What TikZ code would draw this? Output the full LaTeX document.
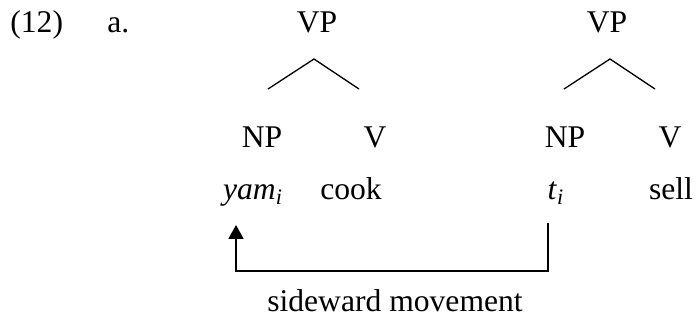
\documentclass[tikz,border=0pt]{standalone}
\usepackage{fontspec}
\setmainfont{Liberation Serif}
\usepackage{tikz}
\usetikzlibrary{arrows.meta,positioning,calc}
\tikzset{
  lbl/.style={inner sep=0pt,anchor=base,font=\fontsize{15.8}{18}\selectfont},
  branch/.style={line width=0.65pt},
  movearrow/.style={line width=1pt,-{Triangle[width=7.5pt,length=7pt]}}
}

\begin{document}
\begin{tikzpicture}[x=0.5pt,y=-0.5pt]
  \useasboundingbox (0,0) rectangle (696,320);

  % Example number
  \node[lbl,anchor=base west] (exnum) at (10,33) {(12)};
  \node[lbl,anchor=base west] (exa) at (107,33) {a.};

  % Left tree
  \node[lbl] (vpa) at (317,33) {VP};
  \node[lbl] (npa) at (262,148) {NP};
  \node[lbl] (va) at (375,148) {V};
  \node[lbl] (yam) at (253,200) {\textit{yam}\textsubscript{\textit{i}}};
  \node[lbl] (cook) at (351,200) {cook};
  \coordinate (topa) at (314,59);
  \coordinate (lefta) at (268,89);
  \coordinate (righta) at (359,89);
  \draw[branch] (lefta) -- (topa) -- (righta);

  % Right tree
  \node[lbl] (vpb) at (607,33) {VP};
  \node[lbl] (npb) at (565,148) {NP};
  \node[lbl] (vb) at (670,148) {V};
  \node[lbl] (trace) at (556,200) {\textit{t}\textsubscript{\textit{i}}};
  \node[lbl] (sell) at (671,200) {sell};
  \coordinate (topb) at (610,59);
  \coordinate (leftb) at (564,89);
  \coordinate (rightb) at (655,89);
  \draw[branch] (leftb) -- (topb) -- (rightb);

  % Sideward movement
  \coordinate (tracefoot) at (548,223);
  \coordinate (yamfoot) at (236,225);
  \draw[movearrow] (tracefoot) -- (548,271) -| (yamfoot);
  \node[lbl] (movelbl) at (395,312) {sideward movement};
\end{tikzpicture}
\end{document}
